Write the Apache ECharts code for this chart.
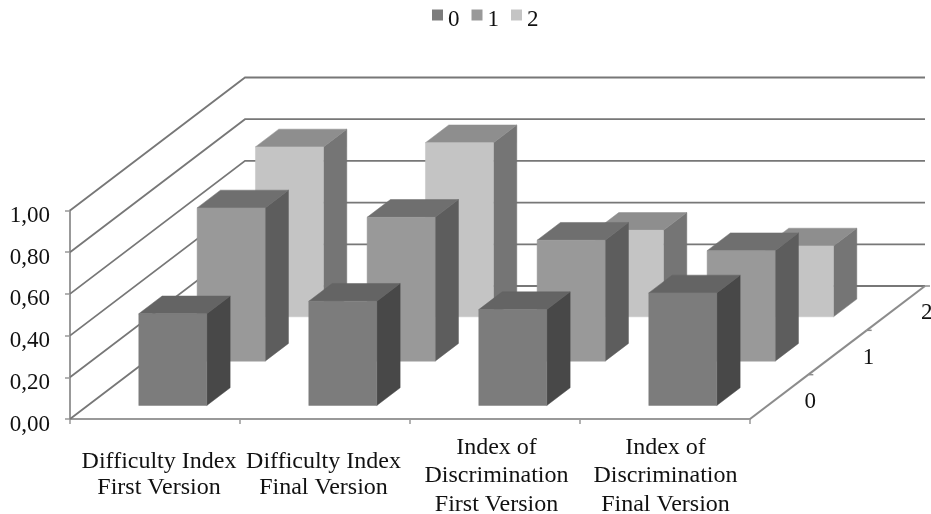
<!DOCTYPE html>
<html>
<head>
<meta charset="utf-8">
<style>html,body{margin:0;padding:0;background:#fff}#c{width:931px;height:514px}</style>
<script src="https://cdn.jsdelivr.net/npm/echarts@6/dist/echarts.min.js"></script>
</head>
<body>
<div id="c"></div>
<script>
const categories = ['Difficulty Index\nFirst Version', 'Difficulty Index\nFinal Version', 'Index of\nDiscrimination\nFirst Version', 'Index of\nDiscrimination\nFinal Version'];
const labelShift = [4, -1.5, 1.5, 0.5];
const seriesNames = ['0', '1', '2'];
const values0 = [0.44, 0.50, 0.46, 0.54];
const values1 = [0.735, 0.69, 0.58, 0.53];
const values2 = [0.815, 0.835, 0.415, 0.34];
const yTicks = [0, 0.2, 0.4, 0.6, 0.8, 1];
const depthRows = [0, 1, 2];

const DEPTH_X = 175, DEPTH_Y = -133, ROWS = 3;
const FONT = '"Liberation Serif", serif';
const faces = [
  { front: '#7c7c7c', top: '#646464', side: '#484848' },
  { front: '#999999', top: '#6f6f6f', side: '#5d5d5d' },
  { front: '#c4c4c4', top: '#8e8e8e', side: '#757575' }
];

function shift(p, rows) {
  return [p[0] + DEPTH_X * rows / ROWS, p[1] + DEPTH_Y * rows / ROWS];
}

function barSeries(row, values) {
  const c = faces[row];
  return {
    type: 'custom',
    name: seriesNames[row],
    coordinateSystem: 'cartesian2d',
    itemStyle: { color: c.front },
    data: values.map((v, i) => [i, v]),
    encode: { x: 0, y: 1 },
    renderItem(params, api) {
      const cat = api.value(0), v = api.value(1);
      const bw = api.size([1, 0])[0] * 0.4;
      const base = api.coord([cat, 0]);
      const topPt = api.coord([cat, v]);
      const start = row + 0.305, depth = 0.4;
      const a = shift([base[0] - bw / 2, base[1]], start);
      const b = shift([base[0] + bw / 2, base[1]], start);
      const d = shift([base[0] - bw / 2, topPt[1]], start);
      const e = shift([base[0] + bw / 2, topPt[1]], start);
      const poly = (pts, fill) => ({
        type: 'polygon',
        shape: { points: pts },
        style: { fill: fill, stroke: fill, lineWidth: 0.5 }
      });
      return {
        type: 'group',
        children: [
          poly([b, e, shift(e, depth), shift(b, depth)], c.side),
          poly([d, e, shift(e, depth), shift(d, depth)], c.top),
          poly([a, b, e, d], c.front)
        ]
      };
    }
  };
}

const wallSeries = {
  type: 'custom',
  silent: true,
  coordinateSystem: 'cartesian2d',
  data: yTicks.map(t => [0, t]),
  encode: { x: 0, y: 1 },
  renderItem(params, api) {
    const band = api.size([1, 0])[0];
    const p = api.coord([0, api.value(1)]);
    const x0 = p[0] - band / 2;
    const corner = [x0 + DEPTH_X, p[1] + DEPTH_Y];
    const end = [x0 + DEPTH_X + band * categories.length, p[1] + DEPTH_Y];
    return {
      type: 'polyline',
      shape: { points: [[x0, p[1]], corner, end] },
      style: { fill: null, stroke: '#777777', lineWidth: 1.8 }
    };
  }
};

const depthAxisSeries = {
  type: 'custom',
  silent: true,
  coordinateSystem: 'cartesian2d',
  data: depthRows.map(r => [categories.length - 1, 0, r]),
  encode: { x: 0, y: 1 },
  renderItem(params, api) {
    const band = api.size([1, 0])[0];
    const p = api.coord([api.value(0), 0]);
    const corner = [p[0] + band / 2, p[1]];
    const r = api.value(2);
    const from = shift(corner, r), to = shift(corner, r + 1);
    const mid = shift(corner, r + 0.5);
    return {
      type: 'group',
      children: [
        { type: 'line', shape: { x1: from[0], y1: from[1], x2: to[0], y2: to[1] },
          style: { stroke: '#8c8c8c', lineWidth: 2 } },
        { type: 'line', shape: { x1: to[0], y1: to[1], x2: to[0] + 5, y2: to[1] },
          style: { stroke: '#8c8c8c', lineWidth: 1.5 } },
        { type: 'text', x: mid[0] + 31, y: mid[1] + 5,
          style: { text: String(r), font: '23px ' + FONT, fill: '#111', align: 'center', verticalAlign: 'middle' } }
      ]
    };
  }
};

const chart = echarts.init(document.getElementById('c'), null, { renderer: 'canvas' });
chart.setOption({
  animation: false,
  backgroundColor: '#fff',
  legend: {
    data: seriesNames,
    top: 3,
    left: 427,
    itemWidth: 11,
    itemHeight: 11,
    itemGap: 12,
    icon: 'rect',
    formatter: '{a|{name}}',
    textStyle: {
      rich: { a: { fontFamily: FONT, fontSize: 23, color: '#111', padding: [9, 0, 0, 0] } }
    }
  },
  grid: { left: 70, top: 210.5, width: 680, height: 208.5, outerBoundsMode: 'none', containLabel: false },
  xAxis: {
    type: 'category',
    data: categories.map((c, i) => ({
      value: c,
      textStyle: {
        verticalAlign: 'middle',
        padding: labelShift[i] >= 0
          ? [0, 0, 0, labelShift[i] * 2]
          : [0, -labelShift[i] * 2, 0, 0]
      }
    })),
    axisLine: { lineStyle: { color: '#999999', width: 2 } },
    axisTick: { show: true, length: 5, lineStyle: { color: '#999999', width: 1.5 } },
    axisLabel: {
      interval: 0,
      margin: 57,
      formatter: value => {
        const lines = value.split('\n');
        return lines.map((l, k) =>
          (lines.length === 2 && k === 1 ? '{b|' : '{a|') + l + '}'
        ).join('\n');
      },
      rich: {
        a: { fontFamily: FONT, fontSize: 24, lineHeight: 28.5, color: '#111' },
        b: { fontFamily: FONT, fontSize: 24, lineHeight: 28.5, color: '#111', padding: [0, 0, 5, 0] }
      }
    }
  },
  yAxis: {
    type: 'value',
    min: 0,
    max: 1,
    interval: 0.2,
    axisLine: { show: true, lineStyle: { color: '#999999', width: 2 } },
    axisTick: { show: true, length: 5, lineStyle: { color: '#999999', width: 1.5 } },
    splitLine: { show: false },
    axisLabel: {
      margin: 20,
      formatter: v => '{a|' + v.toFixed(2).replace('.', ',') + '}',
      rich: { a: { fontFamily: FONT, fontSize: 23, color: '#111', padding: [11, 0, 0, 0] } }
    }
  },
  series: [
    wallSeries,
    depthAxisSeries,
    barSeries(2, values2),
    barSeries(1, values1),
    barSeries(0, values0)
  ]
});
</script>
</body>
</html>
